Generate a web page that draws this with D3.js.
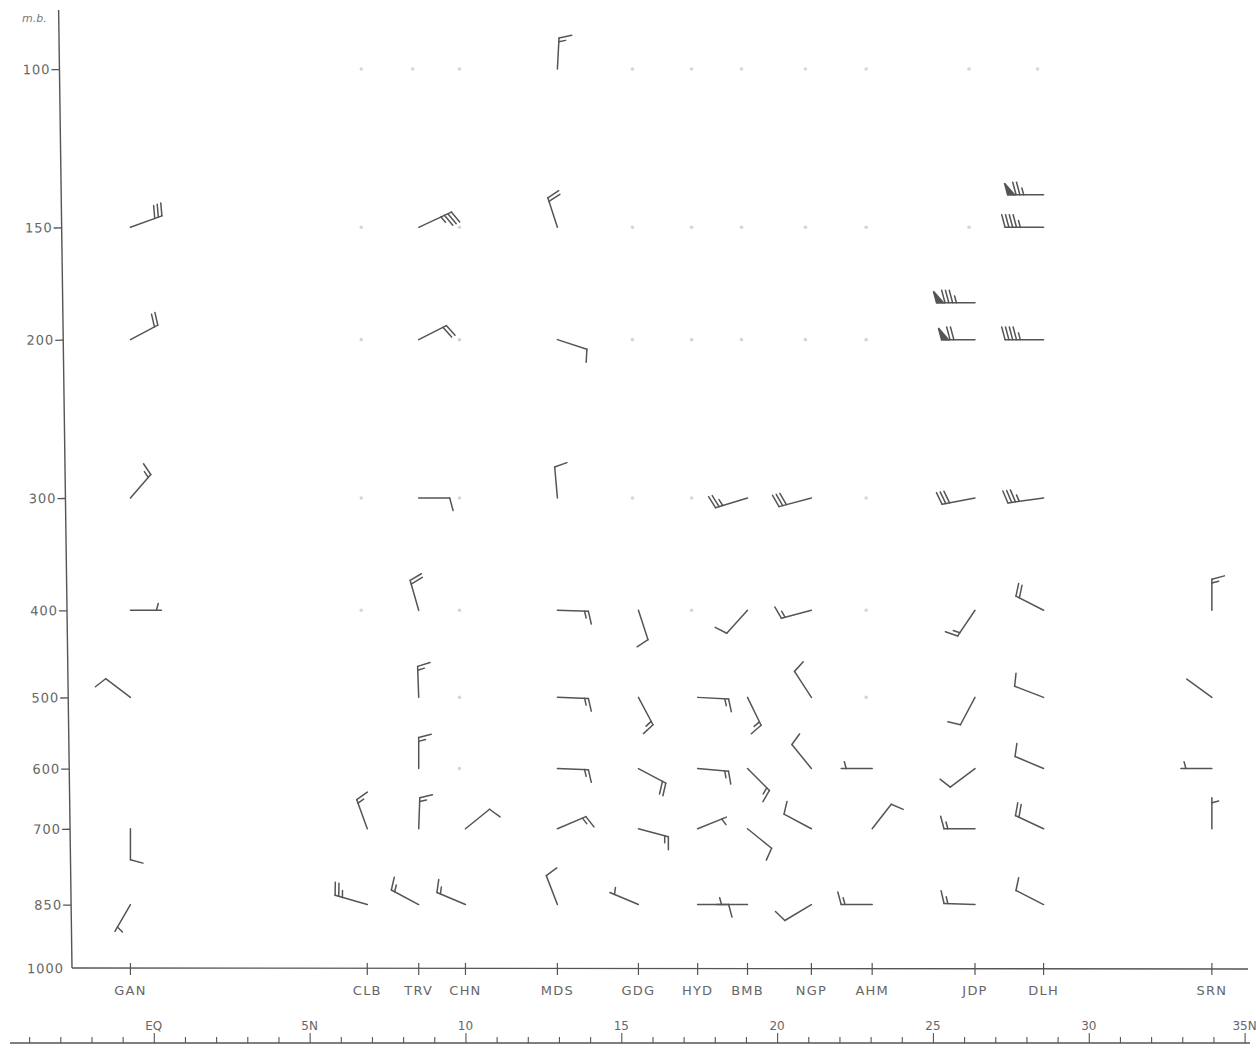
<!DOCTYPE html>
<html><head><meta charset="utf-8">
<script src="https://cdn.jsdelivr.net/npm/d3@7"></script>
<style>body{margin:0;background:#fff}svg{display:block}</style>
</head><body>
<svg id="c" width="1256" height="1048"></svg>
<script>
// ---------------- data ----------------
const stationNames = ["GAN","CLB","TRV","CHN","MDS","GDG","HYD","BMB","NGP","AHM","JDP","DLH","SRN"];
const stationLats  = [-0.75, 6.85, 8.5, 10.0, 12.95, 15.55, 17.45, 19.05, 21.1, 23.05, 26.35, 28.55, 33.95];
const pressureTicks = [100,150,200,300,400,500,600,700,850,1000];
const latTicks = d3.range(-4, 36);
const latLabelValues = [0,5,10,15,20,25,30,35];
const latLabelTexts  = ["EQ","5N","10","15","20","25","30","35N"];
// [station, pressure (mb), direction from (deg), speed (kt)]
const windObs = [
  ["GAN",150,70,30],["GAN",200,62,20],["GAN",300,41,15],["GAN",400,90,5],["GAN",500,307,10],["GAN",700,180,10],["GAN",850,210,5],
  ["CLB",700,340,15],["CLB",850,286,25],
  ["TRV",150,65,35],["TRV",200,63,20],["TRV",300,90,10],["TRV",400,344,20],["TRV",500,358,15],["TRV",600,0,15],["TRV",700,2,15],["TRV",850,298,15],
  ["CHN",700,51,10],["CHN",850,293,15],
  ["MDS",100,3,15],["MDS",150,342,20],["MDS",200,108,10],["MDS",300,355,10],["MDS",400,92,15],["MDS",500,92,15],["MDS",600,92,15],["MDS",700,67,15],["MDS",850,339,10],
  ["GDG",400,162,10],["GDG",500,152,15],["GDG",600,118,20],["GDG",700,105,15],["GDG",850,293,5],
  ["HYD",500,93,15],["HYD",600,95,15],["HYD",700,68,5],["HYD",850,90,10],
  ["BMB",300,253,25],["BMB",400,222,10],["BMB",500,154,15],["BMB",600,135,15],["BMB",700,129,10],["BMB",850,270,5],
  ["NGP",300,255,30],["NGP",400,255,15],["NGP",500,327,10],["NGP",600,321,10],["NGP",700,298,10],["NGP",850,239,10],
  ["AHM",600,270,5],["AHM",700,38,10],["AHM",850,270,15],
  ["JDP",182,270,85],["JDP",200,270,70],["JDP",300,259,30],["JDP",400,214,15],["JDP",500,208,10],["JDP",600,233,10],["JDP",700,270,15],["JDP",850,272,15],
  ["DLH",138,270,75],["DLH",150,270,45],["DLH",200,270,45],["DLH",300,262,35],["DLH",400,297,20],["DLH",500,291,10],["DLH",600,293,10],["DLH",700,295,20],["DLH",850,297,10],
  ["SRN",400,0,15],["SRN",500,306,0],["SRN",600,270,5],["SRN",700,0,5]
];
// faint plotting dots where no wind was reported
const missingObs = [
  ["CLB",100],["TRV",100],["CHN",100],["GDG",100],["HYD",100],["BMB",100],["NGP",100],["AHM",100],["JDP",100],["DLH",100],
  ["CLB",150],["CHN",150],["GDG",150],["HYD",150],["BMB",150],["NGP",150],["AHM",150],["JDP",150],
  ["CLB",200],["CHN",200],["GDG",200],["HYD",200],["BMB",200],["NGP",200],["AHM",200],
  ["CLB",300],["CHN",300],["GDG",300],["HYD",300],["AHM",300],
  ["CLB",400],["CHN",400],["HYD",400],["AHM",400],
  ["CHN",500],["AHM",500],["CHN",600]
];

// ---------------- drawing ----------------
const svg = d3.select("#c");
const ink = "#555";
const y = d3.scaleLog().domain([100,1000]).range([69,968]);
const x = d3.scaleLinear().domain([0,35]).range([153.8,1244.6]);
const latOf = Object.fromEntries(stationNames.map((s,i)=>[s,stationLats[i]]));

svg.append("rect").attr("width",1256).attr("height",1048).attr("fill","#fff");

// Y axis (pressure)
const yg = svg.append("g").attr("transform","translate(72,0) rotate(-0.8,0,968)");
const yAxis = d3.axisLeft(y).tickValues(pressureTicks).tickFormat(d3.format("d")).tickSize(8).tickSizeOuter(0);
yg.call(yAxis);
yg.select(".domain").attr("d","M0,10V968").attr("stroke",ink).attr("stroke-width",1.4);
yg.selectAll(".tick line").attr("stroke",ink).attr("stroke-width",1.3);
yg.selectAll(".tick").filter(d=>d===1000).select("line").remove();
yg.selectAll(".tick text").attr("fill","#666").attr("font-family","DejaVu Sans").attr("font-size",13)
  .attr("letter-spacing",1).attr("x",-9);
yg.selectAll(".tick").filter(d=>d===1000).select("text").attr("x",-8);
svg.append("text").attr("x",22).attr("y",22).text("m.b.").attr("fill","#777")
  .attr("font-family","DejaVu Sans").attr("font-size",11).attr("font-style","italic");

// station axis
const sg = svg.append("g");
sg.append("line").attr("x1",72).attr("x2",1248).attr("y1",968).attr("y2",969).attr("stroke",ink).attr("stroke-width",1.4);
sg.selectAll("line.st").data(stationNames).join("line").attr("class","st")
  .attr("x1",d=>x(latOf[d])).attr("x2",d=>x(latOf[d])).attr("y1",963).attr("y2",975)
  .attr("stroke",ink).attr("stroke-width",1.2);
sg.selectAll("text").data(stationNames).join("text")
  .attr("x",d=>x(latOf[d])).attr("y",995).attr("text-anchor","middle")
  .attr("fill","#666").attr("font-family","DejaVu Sans").attr("font-size",13).attr("letter-spacing",1.2)
  .text(d=>d);

// latitude axis
const lg = svg.append("g").attr("transform","translate(0,1043)");
const latAxis = d3.axisTop(x).tickValues(latTicks).tickFormat("").tickSize(6).tickSizeOuter(0);
lg.call(latAxis);
lg.select(".domain").attr("d","M10,0H1250").attr("stroke",ink).attr("stroke-width",1.4);
lg.selectAll(".tick line").attr("stroke",ink).attr("stroke-width",1.1)
  .attr("y2",d=>d%5===0?-10:-6);
lg.selectAll("text.lab").data(latLabelValues).join("text").attr("class","lab")
  .attr("x",d=>x(d)).attr("y",-13).attr("text-anchor","middle")
  .attr("fill","#666").attr("font-family","DejaVu Sans").attr("font-size",12)
  .text((d,i)=>latLabelTexts[i]);

// missing dots
svg.append("g").selectAll("circle").data(missingObs).join("circle")
  .attr("cx",d=>x(latOf[d[0]])-6).attr("cy",d=>y(d[1])).attr("r",1.8).attr("fill","#d6d6d6");

// wind barbs
const bg = svg.append("g").attr("stroke",ink).attr("stroke-width",1.5).attr("stroke-linecap","round").attr("fill","none");
function drawBarb(d){
  const [st,p,dir,spd] = d;
  const x0 = x(latOf[st]), y0 = y(p);
  const side = latOf[st] < 0 ? -1 : 1;
  const r = dir*Math.PI/180, ux = Math.sin(r), uy = -Math.cos(r);
  const fa = (dir + side*75)*Math.PI/180, fx = Math.sin(fa), fy = -Math.cos(fa);
  let s = Math.round(spd/5)*5;
  const flags = Math.floor(s/50); s -= flags*50;
  const full = Math.floor(s/10); s -= full*10;
  const half = s>=5?1:0;
  const n = flags+full+half;
  const L = 31 + Math.max(0,n-2)*2.5;
  const tx = x0+L*ux, ty = y0+L*uy;
  const g = bg.append("g");
  g.append("line").attr("x1",x0).attr("y1",y0).attr("x2",tx).attr("y2",ty);
  let pos = 0;
  const P = k=>[tx-ux*k, ty-uy*k];
  for(let i=0;i<flags;i++){
    const a=P(pos), b=P(pos+7), c=[a[0]+fx*12,a[1]+fy*12];
    g.append("path").attr("d",`M${a}L${c}L${b}Z`).attr("fill",ink);
    pos += 8.5;
  }
  for(let i=0;i<full;i++){
    const a=P(pos);
    g.append("line").attr("x1",a[0]).attr("y1",a[1]).attr("x2",a[0]+fx*13).attr("y2",a[1]+fy*13);
    pos += 3.8;
  }
  if(half){
    if(n===1) pos = 5;
    const a=P(pos);
    g.append("line").attr("x1",a[0]).attr("y1",a[1]).attr("x2",a[0]+fx*7).attr("y2",a[1]+fy*7);
  }
}
windObs.forEach(drawBarb);
</script>
</body></html>
